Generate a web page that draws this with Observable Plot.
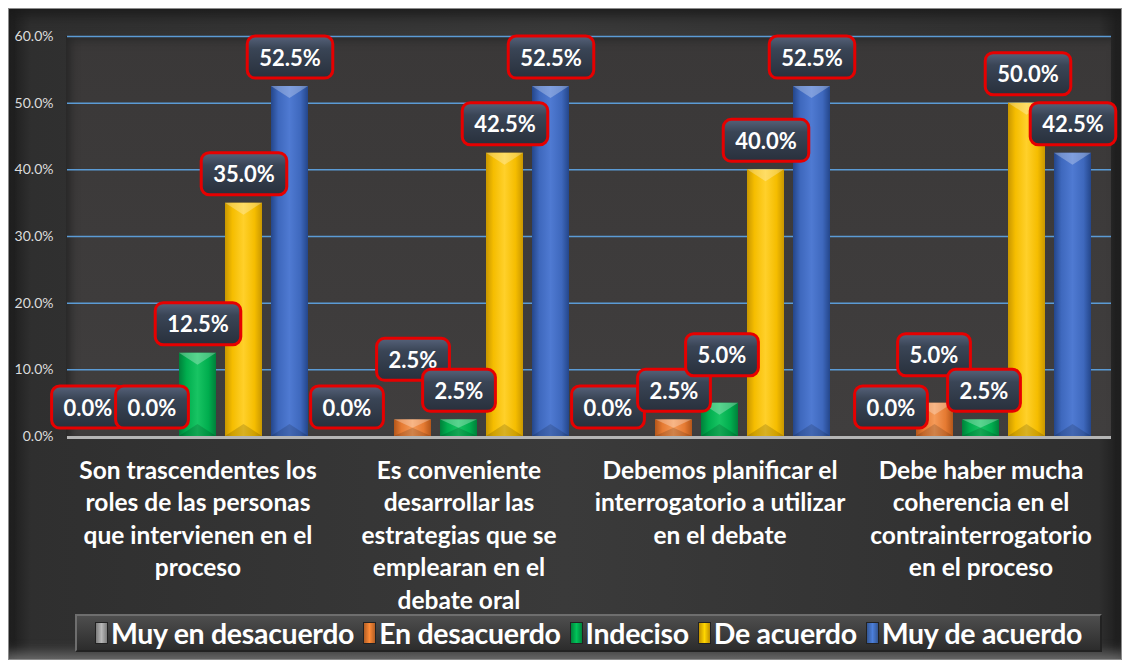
<!DOCTYPE html>
<html><head><meta charset="utf-8">
<script src="https://cdn.jsdelivr.net/npm/d3@7"></script>
<script src="https://cdn.jsdelivr.net/npm/@observablehq/plot@0.6"></script>
<style>
html,body{margin:0;padding:0;background:#fff;}
#wrap{position:relative;width:1129px;height:662px;overflow:hidden;font-family:Lato,"Open Sans",sans-serif;}
#frame{position:absolute;left:8px;top:8px;width:1112px;height:650px;border:1px solid #8c8c8c;
  background:linear-gradient(to right,#1c1c1c 0px,#2f2f2f 22px,#3a3a3a 50%,#2f2f2f calc(100% - 22px),#1c1c1c 100%);
  box-shadow:inset 0 14px 14px -8px #1a1a1a, inset 0 -14px 12px -8px #6a6a6a;}
#panel{position:absolute;left:66px;top:36px;width:1045px;height:400px;
  background:linear-gradient(to bottom,#3a3838,#403e3e);
  box-shadow:inset 10px 0 10px -6px #262626, inset 0 10px 10px -6px #2a2a2a;}
#chart{position:absolute;left:0;top:0;}
#legend{position:absolute;left:75px;top:614px;width:1027px;height:38px;box-sizing:border-box;
  border:2px solid #6e6e6e;border-bottom-color:#222;border-right-color:#222;
  background:linear-gradient(to bottom,#4e4e4e,#2c2c2c);
  display:flex;align-items:center;justify-content:center;gap:9px;
  color:#fff;font-weight:bold;font-size:28.5px;font-family:Lato,sans-serif;white-space:nowrap;letter-spacing:-0.3px;}
#legend .item{display:flex;align-items:center;gap:3px;}
#legend .key{width:13px;height:22px;border:1px solid #222;box-sizing:border-box;}
</style></head>
<body>
<svg width="0" height="0" style="position:absolute">
  <defs>
    <linearGradient id="grad0" x1="0" x2="1" y1="0" y2="0"><stop offset="0" stop-color="#6e6e6e"/><stop offset="0.2" stop-color="#9a9a9a"/><stop offset="0.5" stop-color="#b3b3b3"/><stop offset="0.8" stop-color="#9a9a9a"/><stop offset="1" stop-color="#6e6e6e"/></linearGradient>
    <linearGradient id="grad1" x1="0" x2="1" y1="0" y2="0"><stop offset="0" stop-color="#b3561a"/><stop offset="0.2" stop-color="#e57a32"/><stop offset="0.5" stop-color="#f59a58"/><stop offset="0.8" stop-color="#e57a32"/><stop offset="1" stop-color="#b3561a"/></linearGradient>
    <linearGradient id="grad2" x1="0" x2="1" y1="0" y2="0"><stop offset="0" stop-color="#00803a"/><stop offset="0.2" stop-color="#00ad4e"/><stop offset="0.5" stop-color="#18c463"/><stop offset="0.8" stop-color="#00ad4e"/><stop offset="1" stop-color="#00803a"/></linearGradient>
    <linearGradient id="grad3" x1="0" x2="1" y1="0" y2="0"><stop offset="0" stop-color="#c99700"/><stop offset="0.2" stop-color="#f5bd00"/><stop offset="0.5" stop-color="#ffd02a"/><stop offset="0.8" stop-color="#f5bd00"/><stop offset="1" stop-color="#c99700"/></linearGradient>
    <linearGradient id="grad4" x1="0" x2="1" y1="0" y2="0"><stop offset="0" stop-color="#24468a"/><stop offset="0.2" stop-color="#3e68bd"/><stop offset="0.5" stop-color="#4f7ad2"/><stop offset="0.8" stop-color="#3e68bd"/><stop offset="1" stop-color="#24468a"/></linearGradient>
    <linearGradient id="boxgrad" x1="0" x2="0" y1="0" y2="1"><stop offset="0" stop-color="#56627a"/><stop offset="0.3" stop-color="#3a4556"/><stop offset="1" stop-color="#28303c"/></linearGradient>
  </defs>
</svg>
<div id="wrap"><div id="frame"></div><div id="panel"></div><div id="chart"></div><div id="legend"></div></div>
<script>
// ---- data ----
const categories = [
  "Son trascendentes los\nroles de las personas\nque intervienen en el\nproceso",
  "Es conveniente\ndesarrollar las\nestrategias que se\nemplearan en el\ndebate oral",
  "Debemos planificar el\ninterrogatorio a utilizar\nen el debate",
  "Debe haber mucha\ncoherencia en el\ncontrainterrogatorio\nen el proceso"
];
const series = ["Muy en desacuerdo", "En desacuerdo", "Indeciso", "De acuerdo", "Muy de acuerdo"];
const muyEnDesacuerdo = [0.0, 0.0, 0.0, 0.0];
const enDesacuerdo    = [0.0, 2.5, 2.5, 5.0];
const indeciso        = [12.5, 2.5, 5.0, 2.5];
const deAcuerdo       = [35.0, 42.5, 40.0, 50.0];
const muyDeAcuerdo    = [52.5, 52.5, 52.5, 42.5];
const yTicks = [0, 10, 20, 30, 40, 50, 60];

// ---- presentation ----
const seriesColors = ["#a5a5a5", "#ed7d31", "#00b050", "#ffc000", "#4472c4"];
const seriesFills = series.map((s, i) => `url(#grad${i})`);
// Excel-like label collision nudges (px), per [category][series]: [dx, extra dy]
const labelNudge = [
  [[-18, 0], [0, 0], [0, 0], [0, 0], [0, 0]],
  [[-20, 0], [0, -31], [0, 0], [0, 0], [0, 0]],
  [[-20, 0], [0, 0], [2, -19], [0, 0], [0, 0]],
  [[2, 0], [-1, -19], [3, 0], [1, 0], [0, 0]]
];

const valueArrays = [muyEnDesacuerdo, enDesacuerdo, indeciso, deAcuerdo, muyDeAcuerdo];
const rows = [];
categories.forEach((c, ci) => series.forEach((s, si) => {
  rows.push({cat: c, series: s, value: valueArrays[si][ci], ci, si});
}));

const chart = Plot.plot({
  width: 1129,
  height: 662,
  marginLeft: 66,
  marginRight: 18,
  marginTop: 36,
  marginBottom: 226,
  style: {background: "transparent", color: "#dcdcdc", fontFamily: "Lato, sans-serif", fontSize: "14px"},
  fx: {domain: categories, padding: 0, axis: null},
  x: {domain: series, paddingInner: 0.2, paddingOuter: 0.4, axis: null},
  y: {domain: [0, 60], ticks: yTicks, tickFormat: d => d.toFixed(1) + "%", tickSize: 0, tickPadding: 14, label: null},
  color: {domain: series, range: seriesFills},
  marks: [
    Plot.ruleY(yTicks.filter(t => t > 0), {stroke: "#5b9bd5", strokeWidth: 1.5}),
    Plot.ruleY([0], {stroke: "#b5b5b5", strokeWidth: 3, dy: 1}),
    Plot.barY(rows, {fx: "cat", x: "series", y: "value", fill: "series", ariaDescription: "bars"}),
    Plot.text(rows, {fx: "cat", x: "series", y: "value", text: d => d.value.toFixed(1) + "%",
      dy: -28, fill: "#ffffff", fontSize: 22, fontWeight: "bold", ariaDescription: "value-labels"}),
    Plot.text(categories, {fx: d => d, text: d => d, frameAnchor: "bottom", lineAnchor: "top",
      dy: 19, lineHeight: 1.33, fill: "#ffffff", fontSize: 24.5, fontWeight: "bold", ariaDescription: "category-labels"})
  ]
});
document.getElementById("chart").appendChild(chart);
const svg = chart.tagName.toLowerCase() === "svg" ? chart : chart.querySelector("svg");
const NS = "http://www.w3.org/2000/svg";

// bar elements: those filled with a series gradient
const barRects = [...svg.querySelectorAll("rect")].filter(r => (r.getAttribute("fill") || "").startsWith("url(#grad"));
barRects.forEach(r => {
  const x = +r.getAttribute("x"), y = +r.getAttribute("y");
  const w = +r.getAttribute("width"), h = +r.getAttribute("height");
  if (!(h > 0.5)) return;
  const t = Math.min(12, h / 2);
  const tf = r.getAttribute("transform");
  const top = document.createElementNS(NS, "polygon");
  top.setAttribute("points", `${x},${y} ${x + w},${y} ${x + w / 2},${y + t}`);
  top.setAttribute("fill", "#ffffff"); top.setAttribute("fill-opacity", "0.28");
  if (tf) top.setAttribute("transform", tf);
  r.parentNode.appendChild(top);
  const bot = document.createElementNS(NS, "polygon");
  bot.setAttribute("points", `${x},${y + h} ${x + w},${y + h} ${x + w / 2},${y + h - t}`);
  bot.setAttribute("fill", "#000000"); bot.setAttribute("fill-opacity", "0.15");
  if (tf) bot.setAttribute("transform", tf);
  r.parentNode.appendChild(bot);
});

// value label elements (not the y-axis tick labels)
let labelTexts = [...svg.querySelectorAll('[aria-description="value-labels"] text')];
if (!labelTexts.length) {
  labelTexts = [...svg.querySelectorAll("text")].filter(t =>
    /%$/.test(t.textContent) && !t.closest('[aria-label*="axis"]') && !t.closest('[aria-label*="tick"]'));
}
labelTexts.forEach(t => {
  const i = t.__data__;
  const d = rows[i];
  const [ndx, ndy] = d ? labelNudge[d.ci][d.si] : [0, 0];
  let tx = 0, ty = 0;
  const tr = t.getAttribute("transform");
  const m = tr && tr.match(/translate\(\s*([-\d.e]+)[ ,]+([-\d.e]+)\s*\)/);
  if (m) { tx = +m[1] + ndx; ty = +m[2] + ndy; t.setAttribute("transform", `translate(${tx},${ty})`); }
  else {
    tx = +(t.getAttribute("x") || 0) + ndx; ty = +(t.getAttribute("y") || 0) + ndy;
    t.setAttribute("x", tx); t.setAttribute("y", ty);
  }
  const bb = t.getBBox();
  const cx = m ? tx + bb.x + bb.width / 2 : bb.x + bb.width / 2;
  const cy = m ? ty + bb.y + bb.height / 2 : bb.y + bb.height / 2;
  const bw = bb.width + 24, bh = 42;
  const rect = document.createElementNS(NS, "rect");
  rect.setAttribute("x", cx - bw / 2); rect.setAttribute("y", cy - bh / 2);
  rect.setAttribute("width", bw); rect.setAttribute("height", bh);
  rect.setAttribute("rx", 8);
  rect.setAttribute("fill", "url(#boxgrad)");
  rect.setAttribute("stroke", "#e60000"); rect.setAttribute("stroke-width", 3);
  t.parentNode.insertBefore(rect, t);
});

// legend
const legend = document.getElementById("legend");
series.forEach((s, i) => {
  const item = document.createElement("div"); item.className = "item";
  const key = document.createElement("div"); key.className = "key";
  key.style.background = `linear-gradient(to right, ${d3.color(seriesColors[i]).darker(0.8)}, ${d3.color(seriesColors[i]).brighter(0.3)} 50%, ${d3.color(seriesColors[i]).darker(0.8)})`;
  const lab = document.createElement("span"); lab.textContent = s;
  item.appendChild(key); item.appendChild(lab); legend.appendChild(item);
});
</script>
</body></html>
